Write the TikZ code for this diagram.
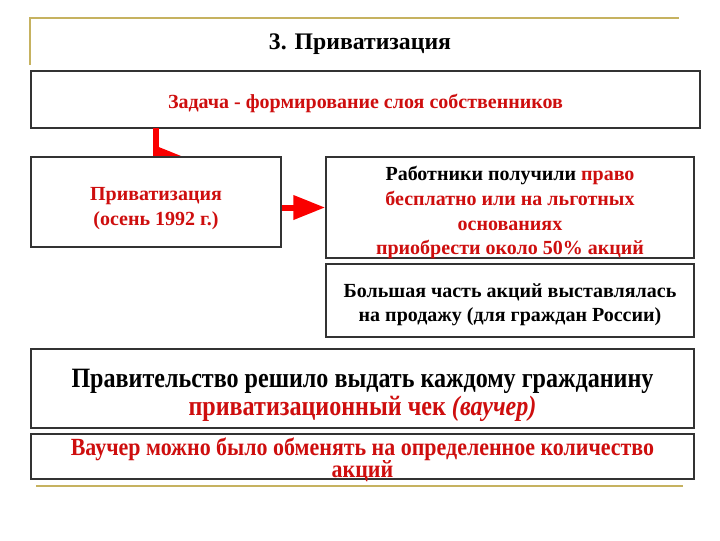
\documentclass[tikz,border=0pt]{standalone}
\usepackage{fontspec}
\setmainfont{Liberation Serif}
\newfontfamily\narrowserif[FakeStretch=0.86]{Liberation Serif}
\newfontfamily\narrowserifb[FakeStretch=0.89]{Liberation Serif}
\usetikzlibrary{arrows.meta}

\definecolor{titlegold}{RGB}{198,178,96}
\definecolor{textred}{RGB}{206,14,14}
\definecolor{arrowred}{RGB}{250,0,0}

% strut that lowers the first line of a box text
\newcommand{\firstlift}[1]{\rule{0pt}{#1}}

\tikzset{every picture/.style={line width=0.75pt}}
\tikzset{
  box/.style={draw=black!80, line width=1.1pt, fill=white, rectangle, inner sep=0pt, align=center, font=\bfseries},
  redarrow/.style={draw=arrowred, line width=4.5pt, -{Triangle[length=24pt,width=17.5pt]}},
  goldline/.style={draw=titlegold, line width=1.5pt},
}

\begin{document}
\begin{tikzpicture}[x=0.75pt,y=0.75pt,yscale=-1,xscale=1]
    \useasboundingbox (0,0) rectangle (720,540);
    %Shape: frame lines
    \draw [goldline]  (30,65) -- (30,18) -- (679,18) ;
    \draw [goldline]  (36,486) -- (683,486) ;
    % Text Node
    \node [inner sep=0.75pt, font=\bfseries\fontsize{17.8}{20}\selectfont] (title) at (360,44.5) {3. Приватизация};
    %Shape: Rectangle
    \node [box, minimum width=501.75pt, minimum height=42.75pt, font=\bfseries\fontsize{15}{17}\selectfont, text=textred] (zadacha) at (365.5,99.5) {\firstlift{16.5pt}Задача - формирование слоя собственников};
    % elbow arrow under the box
    \coordinate (elbowstart) at (155.5,128);
    \coordinate (elbowend) at (188,158.5);
    \draw [redarrow]  (elbowstart) |- (elbowend) ;
    %Shape: Rectangle
    \node [box, minimum width=187.5pt, minimum height=67.5pt, font=\bfseries\fontsize{15}{18.75}\selectfont, text=textred] (privat) at (156,202) {\firstlift{20pt}Приватизация\\(осень 1992 г.)};
    %Shape: Rectangle
    \node [box, inner ysep=-1.5pt, minimum width=276pt, minimum height=75.75pt, font=\bfseries\fontsize{15}{18.5}\selectfont] (rabotniki) at (510,207.5) {\firstlift{18.5pt}Работники получили \textcolor{textred}{право}\\\textcolor{textred}{бесплатно или на льготных}\\\textcolor{textred}{основаниях}\\\textcolor{textred}{приобрести около 50\% акций}};
    \draw [redarrow]  (privat.east |- rabotniki.west) -- (rabotniki.west) ;
    %Shape: Rectangle
    \node [box, minimum width=276pt, minimum height=54.75pt, font=\bfseries\fontsize{15}{18}\selectfont] (bolshaya) at (510,300.5) {\firstlift{17pt}Большая часть акций выставлялась\\на продажу (для граждан России)};
    %Shape: Rectangle
    \node [box, minimum width=497.25pt, minimum height=59.25pt, font=\narrowserif\bfseries\fontsize{21}{21}\selectfont] (pravitelstvo) at (362.5,388.5) {\firstlift{23.5pt}Правительство решило выдать каждому гражданину\\\textcolor{textred}{приватизационный чек \textit{(ваучер)}}};
    %Shape: Rectangle
    \node [box, inner ysep=-3pt, minimum width=497.25pt, minimum height=33.75pt, font=\narrowserifb\bfseries\fontsize{18.5}{17}\selectfont, text=textred] (vaucher) at (362.5,456.5) {\firstlift{18pt}Ваучер можно было обменять на определенное количество\\акций};
\end{tikzpicture}
\end{document}
